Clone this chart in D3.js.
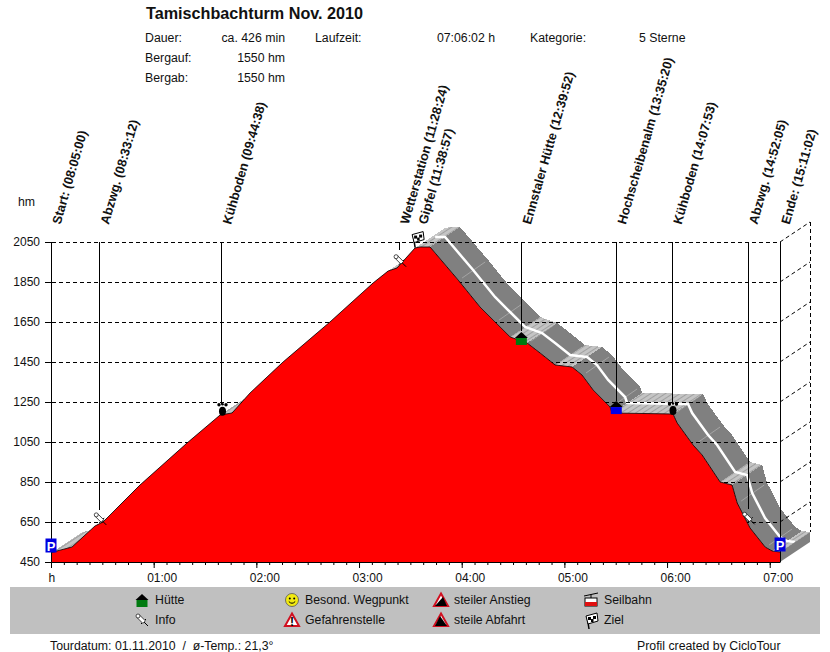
<!DOCTYPE html>
<html>
<head>
<meta charset="utf-8">
<script src="https://cdn.jsdelivr.net/npm/d3@7"></script>
<style>
html, body { margin: 0; padding: 0; background: #fff; }
text { font-family: "Liberation Sans", Arial, sans-serif; font-size: 12.3px; fill: #111; }
</style>
</head>
<body>
<div id="canvas1"></div>
<script>
// profile: minutes since start / height in hm
var profileMin = [0, 3.5, 12.3, 25.7, 30.4, 52, 79.5, 98.8, 105.8, 116.3, 135.6, 163, 188.2, 197, 202.2, 212.7,
                  215.7, 221.5, 237.9, 250.7, 259.5, 268.3, 278.2, 285.8, 294.6, 304.5, 310.3, 316.8, 326.7,
                  327.9, 363.5, 365.9, 375.2, 380.5, 391, 398, 401, 408.5, 417.3, 421.4, 426];
var profileHm  = [495, 505, 525, 630, 650, 835, 1045, 1185, 1195, 1295, 1450, 1650, 1845, 1905, 1920, 2020,
                  2025, 2025, 1860, 1725, 1650, 1575, 1545, 1495, 1435, 1425, 1385, 1310, 1225,
                  1195, 1190, 1145, 1035, 985, 850, 835, 745, 620, 525, 505, 500];

// waypoints along the tour
var wpNames = ["Start:", "Abzwg.", "Kühboden", "Wetterstation", "Gipfel", "Ennstaler Hütte", "Hochscheibenalm", "Kühboden", "Abzwg.", "Ende:"];
var wpTimes = ["08:05:00", "08:33:12", "09:44:38", "11:28:24", "11:38:57", "12:39:52", "13:35:20", "14:07:53", "14:52:05", "15:11:02"];
var wpIcons = ["park", "info", "smile", "info", "flag", "hutGreen", "hutBlue", "smile", "info", "park"];

var yTicks = [450, 650, 850, 1050, 1250, 1450, 1650, 1850, 2050];
var hourTicks = [0, 60, 120, 180, 240, 300, 360, 420];
var minorTicks = d3.range(0, 426, 7.5);

var legendCols = [
    [["hutGreen", "Hütte"], ["info", "Info"]],
    [["smile", "Besond. Wegpunkt"], ["danger", "Gefahrenstelle"]],
    [["up", "steiler Anstieg"], ["down", "steile Abfahrt"]],
    [["cable", "Seilbahn"], ["flag", "Ziel"]]
];

var svgContainer = d3.select("#canvas1").append("svg")
    .attr("width", 830)
    .attr("height", 652)
    .style("display", "block");

var x = d3.scaleLinear().domain([0, 426]).range([51, 780]);
var y = d3.scaleLinear().domain([450, 2050]).range([562, 242]);

// depth of the 3d band
var depthX = 30, depthY = -20;

var points = profileMin.map(function(m, i) { return [x(m), y(profileHm[i])]; });

function minutesOf(t) {
    var p = t.split(":");
    return (+p[0] * 60 + +p[1] + p[2] / 60) - (8 * 60 + 5);
}
function hmAt(m) {
    var i = d3.bisectLeft(profileMin, m);
    if (i <= 0) return profileHm[0];
    if (i >= profileMin.length) return profileHm[profileHm.length - 1];
    var t = (m - profileMin[i - 1]) / (profileMin[i] - profileMin[i - 1]);
    return profileHm[i - 1] + t * (profileHm[i] - profileHm[i - 1]);
}

//hatch for flat parts of the band
var defs = svgContainer.append("defs");
var hatch = defs.append("pattern")
    .attr("id", "hatch")
    .attr("patternUnits", "userSpaceOnUse")
    .attr("width", 4)
    .attr("height", 4)
    .attr("patternTransform", "rotate(-33)");
hatch.append("rect").attr("width", 4).attr("height", 4).attr("fill", "#c4c4c4");
hatch.append("rect").attr("width", 4).attr("height", 1).attr("fill", "#a0a0a0");

// ---- header ----
svgContainer.append("text").text("Tamischbachturm Nov. 2010")
    .attr("x", 146).attr("y", 19)
    .style("font-size", "16.2px").style("font-weight", "bold");

var headLeft = [["Dauer:", "ca. 426 min", 42], ["Bergauf:", "1550 hm", 62], ["Bergab:", "1550 hm", 82]];
headLeft.forEach(function(r) {
    svgContainer.append("text").text(r[0]).attr("x", 145).attr("y", r[2]);
    svgContainer.append("text").text(r[1]).attr("x", 285).attr("y", r[2]).attr("text-anchor", "end");
});
svgContainer.append("text").text("Laufzeit:").attr("x", 315).attr("y", 42);
svgContainer.append("text").text("07:06:02 h").attr("x", 495).attr("y", 42).attr("text-anchor", "end");
svgContainer.append("text").text("Kategorie:").attr("x", 530).attr("y", 42);
svgContainer.append("text").text("5 Sterne").attr("x", 639).attr("y", 42);
svgContainer.append("text").text("hm").attr("x", 18).attr("y", 206);

// ---- 3d band ----
var band = svgContainer.append("g");
var segments = d3.range(points.length - 1);

band.selectAll("polygon.seg")
    .data(segments)
    .enter()
    .append("polygon")
    .attr("class", "seg")
    .attr("points", function(i) {
        var a = points[i], b = points[i + 1];
        return [a, b, [b[0] + depthX, b[1] + depthY], [a[0] + depthX, a[1] + depthY]].join(" ");
    })
    .attr("shape-rendering", "crispEdges")
    .attr("fill", function(i) {
        // descending faces are dark, everything else is the light hatch
        var grade = (profileHm[i + 1] - profileHm[i]) / (profileMin[i + 1] - profileMin[i]);
        return grade < -4.5 ? "#808080" : "url(#hatch)";
    });

// thin light creases across the band
band.selectAll("line.crease")
    .data(points.slice(18, 39).filter(function(d, i) { return i % 2 == 0; }))
    .enter()
    .append("line")
    .attr("class", "crease")
    .attr("x1", function(d) { return d[0] + 4; })
    .attr("y1", function(d) { return d[1] - 2; })
    .attr("x2", function(d) { return d[0] + depthX - 3; })
    .attr("y2", function(d) { return d[1] + depthY + 2; })
    .attr("stroke", "#b4b4b4")
    .attr("stroke-opacity", 0.7)
    .attr("stroke-width", 1);

// white path in the middle of the band
band.append("path")
    .attr("d", d3.line()(points.slice(16)))
    .attr("transform", "translate(" + depthX / 2 + "," + depthY / 2 + ")")
    .attr("fill", "none")
    .attr("stroke", "#fff")
    .attr("stroke-width", 2.5);

// side of the band at the end
var last = points[points.length - 1];
band.append("polygon")
    .attr("points", [last, [x(426), y(450)], [x(426) + depthX, y(450) + depthY], [last[0] + depthX, last[1] + depthY]].join(" "))
    .attr("fill", "#808080");

// ---- grid ----
var grid = svgContainer.append("g")
    .attr("fill", "none")
    .attr("stroke", "#000")
    .attr("stroke-width", 1)
    .attr("shape-rendering", "crispEdges");

grid.selectAll("line.h")
    .data(yTicks.slice(1))
    .enter()
    .append("line")
    .attr("class", "h")
    .attr("x1", 45).attr("x2", x(426))
    .attr("y1", function(d) { return y(d); })
    .attr("y2", function(d) { return y(d); })
    .attr("stroke-dasharray", "4,3");

grid.selectAll("line.d")
    .data(yTicks.slice(1))
    .enter()
    .append("line")
    .attr("class", "d")
    .attr("x1", x(426)).attr("x2", x(426) + depthX)
    .attr("y1", function(d) { return y(d); })
    .attr("y2", function(d) { return y(d) + depthY; })
    .attr("shape-rendering", "auto")
    .attr("stroke-dasharray", "4,3");

grid.append("line")
    .attr("x1", x(426) + depthX).attr("x2", x(426) + depthX)
    .attr("y1", y(2050) + depthY).attr("y2", last[1] + depthY)
    .attr("stroke-dasharray", "4,3");

// ---- waypoint stems ----
var wpMin = wpTimes.map(minutesOf);
var stemGap = { park: 0, info: 14, smile: 11, flag: 0, hutGreen: 10, hutBlue: 12 };

function stemX(i) { return Math.round(x(wpMin[i])) + 0.5; }

grid.selectAll("line.stem")
    .data(d3.range(wpMin.length))
    .enter()
    .append("line")
    .attr("class", "stem")
    .attr("x1", stemX)
    .attr("x2", stemX)
    .attr("y1", function(i) { return wpIcons[i] == "flag" ? y(2050) + 2 : y(2050); })
    .attr("y2", function(i) {
        if (wpIcons[i] == "park") return y(450);
        if (wpIcons[i] == "flag") return y(2050) + 2;
        if (i == 3) return y(2050) + 8;
        return y(hmAt(wpMin[i])) - stemGap[wpIcons[i]];
    });

// ---- red profile ----
var area = d3.area()
    .x(function(d, i) { return x(profileMin[i]); })
    .y0(y(450))
    .y1(function(d) { return y(d); });

svgContainer.append("path")
    .attr("d", area(profileHm))
    .attr("fill", "#ff0000");

svgContainer.append("path")
    .attr("d", d3.line()(points))
    .attr("fill", "none")
    .attr("stroke", "#000")
    .attr("stroke-width", 0.8);

// ---- axes ----
var yAxis = d3.axisLeft(y).tickValues(yTicks).tickSize(6).tickPadding(5).tickFormat(d3.format("d"));
var yG = svgContainer.append("g").attr("transform", "translate(51,0)").call(yAxis);
yG.selectAll("text").style("font-size", "12px").style("font-family", "Liberation Sans");
yG.selectAll("line").attr("stroke", "#000");
yG.select(".domain").attr("stroke", "#000");

var minorG = svgContainer.append("g")
    .attr("transform", "translate(0,562)")
    .call(d3.axisBottom(x).tickValues(minorTicks).tickSize(3).tickSizeOuter(0).tickFormat(""));
minorG.select(".domain").attr("stroke", "#000");

var xAxis = d3.axisBottom(x)
    .tickValues(hourTicks)
    .tickSize(6)
    .tickSizeOuter(0)
    .tickFormat(function(m) { return m == 0 ? "h" : d3.format("02")(m / 60) + ":00"; });
var xG = svgContainer.append("g").attr("transform", "translate(0,562)").call(xAxis);
xG.select(".domain").remove();
xG.selectAll("text")
    .style("font-size", "12px")
    .style("font-family", "Liberation Sans")
    .attr("text-anchor", "start")
    .attr("y", 11)
    .attr("x", function(m) { return m == 0 ? -3 : -7; });

// ---- icons ----
function drawIcon(g, kind) {
    if (kind == "park") {
        g.append("rect").attr("x", -5.5).attr("y", -7.5).attr("width", 11).attr("height", 14).attr("fill", "#0000e0");
        g.append("text").text("P").attr("x", 0).attr("y", 4.5).attr("text-anchor", "middle")
            .style("fill", "#fff").style("font-size", "13px").style("font-weight", "bold");
    } else if (kind == "hutGreen" || kind == "hutBlue") {
        g.append("rect").attr("x", -5.5).attr("y", 0).attr("width", 11).attr("height", 7)
            .attr("fill", kind == "hutGreen" ? "#007a10" : "#0000e8");
        g.append("polygon").attr("points", "-6.5,0 0,-6 6.5,0").attr("fill", "#000");
    } else if (kind == "info") {
        g.append("line").attr("x1", 1).attr("y1", 1).attr("x2", 6).attr("y2", 6).attr("stroke", "#000");
        g.append("line").attr("x1", -1).attr("y1", 4).attr("x2", 4).attr("y2", -1).attr("stroke", "#000");
        g.append("rect").attr("x", -5).attr("y", -1.8).attr("width", 8).attr("height", 3.6)
            .attr("transform", "rotate(45)").attr("fill", "#fff").attr("stroke", "#222").attr("stroke-width", 0.8);
        g.append("circle").attr("cx", -4).attr("cy", -4).attr("r", 2).attr("fill", "#fff").attr("stroke", "#222").attr("stroke-width", 0.8);
    } else if (kind == "smile") {
        // small black walker mark on the profile
        g.append("ellipse").attr("cx", 0).attr("cy", 1.5).attr("rx", 3.5).attr("ry", 4.5).attr("fill", "#000");
        g.append("circle").attr("cx", -3.5).attr("cy", -5).attr("r", 1.7).attr("fill", "#000");
        g.append("circle").attr("cx", 0).attr("cy", -5.5).attr("r", 1.3).attr("fill", "#000");
        g.append("circle").attr("cx", 3.5).attr("cy", -5).attr("r", 1.7).attr("fill", "#000");
    } else if (kind == "face") {
        g.append("circle").attr("r", 6.5).attr("fill", "#f2ea10").attr("stroke", "#555").attr("stroke-width", 0.8);
        g.append("circle").attr("cx", -2.2).attr("cy", -1.5).attr("r", 1).attr("fill", "#000");
        g.append("circle").attr("cx", 2.2).attr("cy", -1.5).attr("r", 1).attr("fill", "#000");
        g.append("path").attr("d", "M-3.2,1.5 Q0,5 3.2,1.5").attr("fill", "none").attr("stroke", "#000");
    } else if (kind == "danger") {
        g.append("polygon").attr("points", "0,-6.5 7,6 -7,6").attr("fill", "#fff").attr("stroke", "#d01020").attr("stroke-width", 2);
        g.append("text").text("!").attr("y", 5.5).attr("text-anchor", "middle").style("font-size", "12px").style("font-weight", "bold").style("fill", "#000");
    } else if (kind == "up" || kind == "down") {
        g.append("polygon").attr("points", "0,-6.5 7,6 -7,6").attr("fill", "#fff").attr("stroke", "#d01020").attr("stroke-width", 2);
        g.append("polygon").attr("points", kind == "up" ? "-6,6 6,6 2,-3" : "-6,6 6,6 -1,-4").attr("fill", "#000");
    } else if (kind == "cable") {
        g.append("line").attr("x1", -7).attr("y1", -4).attr("x2", 7).attr("y2", -7).attr("stroke", "#000");
        g.append("line").attr("x1", 0).attr("y1", -5.5).attr("x2", 0).attr("y2", -2).attr("stroke", "#000");
        g.append("rect").attr("x", -6).attr("y", -2).attr("width", 12).attr("height", 8).attr("fill", "#fff").attr("stroke", "#000");
        g.append("rect").attr("x", -6).attr("y", 2).attr("width", 12).attr("height", 4).attr("fill", "#e01010");
    } else if (kind == "flag") {
        g.append("line").attr("x1", -4).attr("y1", -4).attr("x2", -2).attr("y2", 9).attr("stroke", "#000").attr("stroke-width", 1.5);
        g.append("polygon").attr("points", "-5,-4 6,-7 7,1 -3,4").attr("fill", "#fff").attr("stroke", "#000");
        g.append("rect").attr("x", -3).attr("y", -3).attr("width", 3).attr("height", 3).attr("fill", "#000");
        g.append("rect").attr("x", 2).attr("y", -4).attr("width", 3).attr("height", 3).attr("fill", "#000");
        g.append("rect").attr("x", 0).attr("y", -1).attr("width", 2.5).attr("height", 3).attr("fill", "#000");
    }
}

// icon sits a little above the profile, offsets per kind
var iconOffset = {
    park: [0, -7], info: [1, -5], smile: [1, -5], flag: [0, -9],
    hutGreen: [0, -3], hutBlue: [0, -6]
};
wpIcons.forEach(function(kind, i) {
    var off = iconOffset[kind];
    var g = svgContainer.append("g")
        .attr("transform", "translate(" + (x(wpMin[i]) + off[0]) + "," + (y(hmAt(wpMin[i])) + off[1]) + ")");
    drawIcon(g, kind);
});

// ---- rotated waypoint labels ----
svgContainer.selectAll("text.wp")
    .data(d3.range(wpNames.length))
    .enter()
    .append("text")
    .attr("class", "wp")
    .attr("transform", function(i) { return "translate(" + (x(wpMin[i]) + 9.5) + ",225) rotate(-74)"; })
    .style("font-weight", "bold")
    .style("font-size", "12.8px")
    .text(function(i) { return wpNames[i] + " (" + wpTimes[i] + ")"; });

// ---- legend ----
svgContainer.append("rect")
    .attr("x", 10).attr("y", 587)
    .attr("width", 810).attr("height", 47)
    .attr("fill", "#c0c0c0");

var colX = [142, 292, 441, 591];
legendCols.forEach(function(col, c) {
    col.forEach(function(item, r) {
        var rowY = 600 + r * 20;
        var g = svgContainer.append("g").attr("transform", "translate(" + colX[c] + "," + rowY + ")");
        drawIcon(g, item[0] == "smile" ? "face" : item[0]);
        svgContainer.append("text").text(item[1])
            .attr("x", colX[c] + 13)
            .attr("y", rowY + 4);
    });
});

// ---- footer ----
svgContainer.append("text").text("Tourdatum: 01.11.2010  /  ø-Temp.: 21,3°")
    .attr("x", 50).attr("y", 650)
    .attr("xml:space", "preserve")
    .style("white-space", "pre");
svgContainer.append("text").text("Profil created by CicloTour").attr("x", 637).attr("y", 650);
</script>
</body>
</html>
